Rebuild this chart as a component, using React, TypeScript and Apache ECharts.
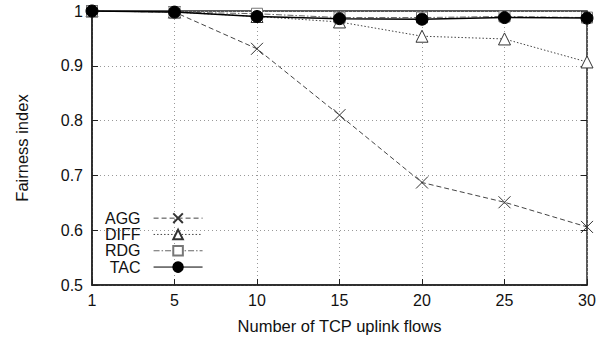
import React, { useEffect, useRef } from "react";
import * as echarts from "echarts";

const categories = ["1", "5", "10", "15", "20", "25", "30"];
const aggValues = [1.0, 0.998, 0.931, 0.81, 0.687, 0.651, 0.606];
const diffValues = [1.0, 0.998, 0.99, 0.98, 0.954, 0.949, 0.907];
const rdgValues = [1.0, 0.998, 0.995, 0.988, 0.988, 0.99, 0.988];
const tacValues = [1.0, 0.998, 0.99, 0.986, 0.985, 0.988, 0.987];
const seriesNames = ["AGG", "DIFF", "RDG", "TAC"];

const FONT = "Liberation Sans, Arial, Helvetica, sans-serif";

export default function App() {
  const ref = useRef<HTMLDivElement>(null);
  useEffect(() => {
    document.body.style.margin = "0";
    if (!ref.current) return;
    const chart = echarts.init(ref.current, undefined, { renderer: "svg" });
    const tick = { show: true, inside: true, length: 6, lineStyle: { color: "#222", width: 1 } };
    chart.setOption({
      animation: false,
      textStyle: { fontFamily: FONT },
      grid: {
        left: 92, right: 20, top: 11, bottom: 57,
        show: true, borderColor: "#222", borderWidth: 1.5, backgroundColor: "transparent",
      },
      legend: {
        orient: "vertical",
        left: 105,
        top: 210,
        align: "right",
        itemWidth: 49,
        itemHeight: 12,
        itemGap: 0,
        padding: 0,
        data: seriesNames,
        lineStyle: { width: 1 },
        textStyle: { fontFamily: FONT, fontSize: 16, color: "#111", lineHeight: 16.3, padding: [0, 8, 0, 0] },
      },
      xAxis: [
        {
          type: "category",
          data: categories,
          boundaryGap: false,
          name: "Number of TCP uplink flows",
          nameLocation: "middle",
          nameGap: 32,
          nameTextStyle: { fontFamily: FONT, fontSize: 16.5, color: "#111" },
          axisLine: { show: true, lineStyle: { color: "#222", width: 1.5 } },
          axisTick: { ...tick, alignWithLabel: true },
          axisLabel: { fontFamily: FONT, fontSize: 16, color: "#111", margin: 7 },
          splitLine: { show: true, lineStyle: { color: "#999", type: [1, 3], width: 1 } },
        },
        {
          type: "category",
          data: categories,
          boundaryGap: false,
          position: "top",
          axisLine: { show: false },
          axisTick: tick,
          axisLabel: { show: false },
          splitLine: { show: false },
        },
      ],
      yAxis: [
        {
          type: "value",
          min: 0.5,
          max: 1,
          interval: 0.1,
          name: "Fairness index",
          nameLocation: "middle",
          nameGap: 62,
          nameTextStyle: { fontFamily: FONT, fontSize: 16.5, color: "#111" },
          axisLine: { show: true, lineStyle: { color: "#222", width: 1.5 } },
          axisTick: tick,
          axisLabel: {
            fontFamily: FONT, fontSize: 16, color: "#111", margin: 9,
            formatter: (v: number) => String(Math.round(v * 10) / 10),
          },
          splitLine: { show: true, lineStyle: { color: "#999", type: [1, 3], width: 1 } },
        },
        {
          type: "value",
          min: 0.5,
          max: 1,
          interval: 0.1,
          position: "right",
          axisLine: { show: false },
          axisTick: tick,
          axisLabel: { show: false },
          splitLine: { show: false },
        },
      ],
      series: [
        {
          name: "AGG",
          type: "line",
          data: aggValues,
          symbol: "path://M0,0L10,10M10,0L0,10",
          symbolSize: 12,
          lineStyle: { color: "#444", width: 1, type: [5, 3] },
          itemStyle: { color: "none", borderColor: "#333", borderWidth: 1 },
          z: 2,
        },
        {
          name: "DIFF",
          type: "line",
          data: diffValues,
          symbol: "triangle",
          symbolSize: 12,
          lineStyle: { color: "#444", width: 1, type: [1.5, 2] },
          itemStyle: { color: "#fff", borderColor: "#333", borderWidth: 1 },
          z: 3,
        },
        {
          name: "RDG",
          type: "line",
          data: rdgValues,
          symbol: "rect",
          symbolSize: 11,
          lineStyle: { color: "#666", width: 1, type: [6, 2, 1.5, 2] },
          itemStyle: { color: "#fff", borderColor: "#777", borderWidth: 1 },
          z: 4,
        },
        {
          name: "TAC",
          type: "line",
          data: tacValues,
          symbol: "circle",
          symbolSize: 12,
          lineStyle: { color: "#000", width: 1.5, type: "solid" },
          itemStyle: { color: "#000", borderColor: "#000", borderWidth: 1 },
          z: 5,
        },
      ],
    });
    return () => chart.dispose();
  }, []);
  return <div ref={ref} style={{ width: 607, height: 342 }} />;
}
